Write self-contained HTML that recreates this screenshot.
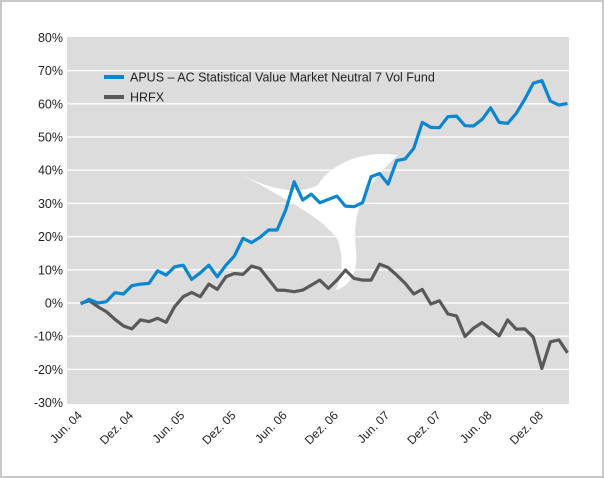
<!DOCTYPE html>
<html><head><meta charset="utf-8"><style>
html,body{margin:0;padding:0;background:#fff}
svg{display:block;font-family:"Liberation Sans",sans-serif}
</style></head><body>
<svg width="604" height="478" viewBox="0 0 604 478">
<rect x="1" y="1" width="602" height="476" fill="#fff" stroke="#c8c8c8" stroke-width="2"/>
<rect x="67" y="37" width="502" height="367" fill="#dcdcdc"/>
<g id="grid"></g>
<path d="M243,175 C285,200 320,215 338,240 C345,262 340,280 336,290 C352,285 358,270 356,250 C352,215 360,190 398,155 C360,150 330,165 318,185 C300,195 270,190 243,175 Z" fill="#fff"/>
<g id="yticks"></g>
<g id="xticks"></g>
<g id="series"></g>
<g>
<line x1="104" y1="77" x2="124" y2="77" stroke="#0a86d0" stroke-width="4"/>
<text x="130" y="81.5" font-size="12.5" fill="#222">APUS – AC Statistical Value Market Neutral 7 Vol Fund</text>
<line x1="104" y1="97" x2="124" y2="97" stroke="#595959" stroke-width="4"/>
<text x="130" y="101.5" font-size="12.5" fill="#222">HRFX</text>
</g>
</svg>
<script>
const yTicks=[80,70,60,50,40,30,20,10,0,-10,-20,-30];
const xLabels=["Jun. 04","Dez. 04","Jun. 05","Dez. 05","Jun. 06","Dez. 06","Jun. 07","Dez. 07","Jun. 08","Dez. 08"];
const apus=[-0.3,1.1,0,0.4,3.1,2.7,5.2,5.7,5.9,9.7,8.4,10.9,11.4,7.1,9.1,11.4,7.9,11.4,14.2,19.5,18.2,19.8,22,22,28,36.5,31,32.8,30.2,31.2,32.2,29.2,29.0,30.2,38.0,39.0,35.8,42.9,43.4,46.6,54.4,52.9,52.8,56.1,56.3,53.4,53.3,55.3,58.8,54.4,54.1,57.1,61.4,66.2,67.0,60.8,59.6,60.1];
const hrfx=[-0.1,0.7,-1.1,-2.6,-4.9,-6.9,-7.8,-5.1,-5.6,-4.6,-5.8,-1.1,1.9,3.2,1.9,5.7,4.1,7.9,8.9,8.6,11.1,10.4,7.1,3.9,3.8,3.4,3.9,5.4,6.9,4.4,6.9,9.9,7.4,6.9,6.9,11.7,10.7,8.4,5.9,2.7,4.1,-0.3,0.7,-3.3,-3.9,-10.1,-7.6,-5.9,-7.9,-9.9,-5.1,-7.9,-7.8,-10.3,-19.7,-11.7,-11.1,-15.0];
const NS="http://www.w3.org/2000/svg";
const y=v=>303-v*3.32;
const x=i=>80.7+i*8.54;
const grid=document.getElementById('grid'),yt=document.getElementById('yticks'),xt=document.getElementById('xticks'),se=document.getElementById('series');
yTicks.forEach(v=>{
 const l=document.createElementNS(NS,'line');
 
 
 l.setAttribute('x1',67);l.setAttribute('x2',569);l.setAttribute('y1',y(v));l.setAttribute('y2',y(v));
 l.setAttribute('stroke','#fff');l.setAttribute('stroke-width','1.3');
 if(v!==80&&v!==-30)grid.appendChild(l);
 const t=document.createElementNS(NS,'text');
 
 
 t.setAttribute('x',63);t.setAttribute('y',y(v)+4.5);t.setAttribute('text-anchor','end');
 t.setAttribute('font-size','12.5');t.setAttribute('fill','#222');t.textContent=v+'%';
 yt.appendChild(t);
});
xLabels.forEach((s,i)=>{
 const t=document.createElementNS(NS,'text');
 
 
 const px=x(i*6)+2,py=416;
 t.setAttribute('x',px);t.setAttribute('y',py);t.setAttribute('text-anchor','end');
 t.setAttribute('transform','rotate(-45 '+px+' '+py+')');
 t.setAttribute('font-size','12');t.setAttribute('fill','#222');t.textContent=s;
 xt.appendChild(t);
});
function line(arr,color,name){
 const p=document.createElementNS(NS,'polyline');
 
 
 p.setAttribute('points',arr.map((v,i)=>x(i).toFixed(1)+','+y(v).toFixed(1)).join(' '));
 p.setAttribute('fill','none');p.setAttribute('stroke',color);p.setAttribute('stroke-width','3.2');
 p.setAttribute('stroke-linejoin','round');
 se.appendChild(p);
}
line(hrfx,'#595959','hrfx-line');
line(apus,'#0a86d0','apus-line');
</script>
</body></html>
